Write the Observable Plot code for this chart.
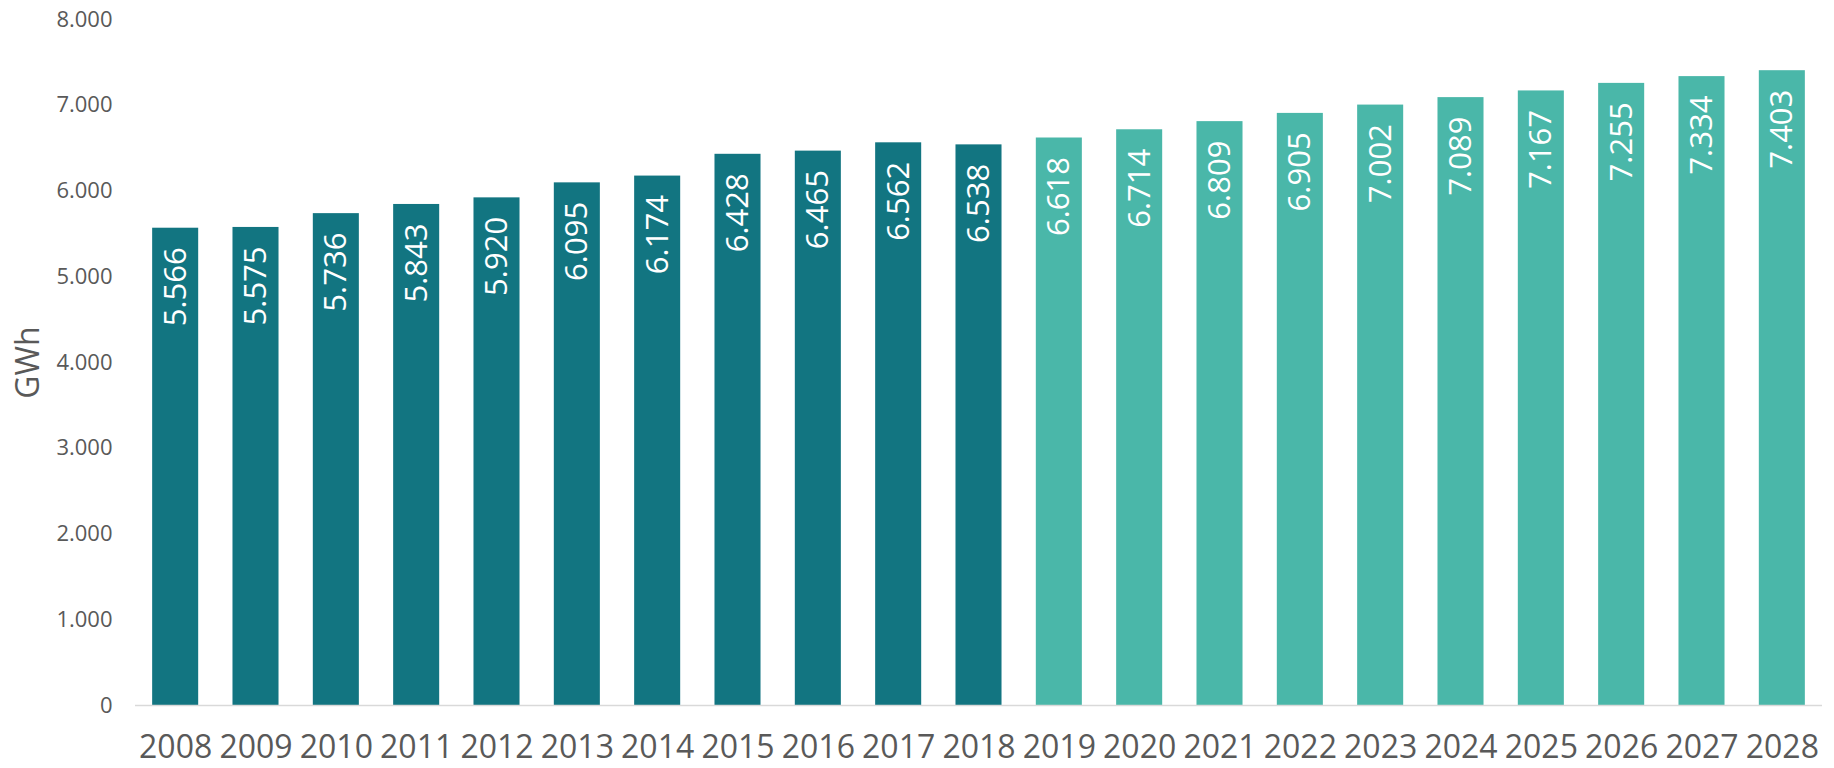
<!DOCTYPE html>
<html>
<head>
<meta charset="utf-8">
<script src="https://cdn.jsdelivr.net/npm/d3@7"></script>
<script src="https://cdn.jsdelivr.net/npm/@observablehq/plot@0.6"></script>
<style>
  html, body { margin: 0; padding: 0; background: #fff; }
  #chart svg { display: block; }
</style>
</head>
<body>
<div id="chart"></div>
<script>
const years = ["2008","2009","2010","2011","2012","2013","2014","2015","2016","2017","2018","2019","2020","2021","2022","2023","2024","2025","2026","2027","2028"];
const values = [5566,5575,5736,5843,5920,6095,6174,6428,6465,6562,6538,6618,6714,6809,6905,7002,7089,7167,7255,7334,7403];
const kinds = ["hist","hist","hist","hist","hist","hist","hist","hist","hist","hist","hist","proj","proj","proj","proj","proj","proj","proj","proj","proj","proj"];
const yTicks = [0,1000,2000,3000,4000,5000,6000,7000,8000];
const yLabel = "GWh";

const data = years.map((y, i) => ({year: y, value: values[i], kind: kinds[i]}));
const loc = d3.formatLocale({decimal: ",", thousands: ".", grouping: [3], currency: ["", ""]});
const fmt = loc.format(",");

const font = "'Open Sans', 'Segoe UI', sans-serif";
const gray = "#595959";

const chart = Plot.plot({
  width: 1834,
  height: 768,
  marginLeft: 135,
  marginRight: 12,
  marginTop: 19,
  marginBottom: 63,
  style: {fontFamily: font, background: "#fff"},
  x: {domain: years, paddingInner: 0.427, paddingOuter: 0.2135, round: false, label: null},
  y: {domain: [0, 8000], label: null},
  color: {domain: ["hist", "proj"], range: ["#127581", "#4AB7A9"]},
  marks: [
    Plot.barY(data, {x: "year", y: "value", fill: "kind"}),
    Plot.ruleY([0], {stroke: "#D9D9D9", strokeWidth: 1.5}),
    Plot.axisY({ticks: yTicks, tickFormat: fmt, tickSize: 0, tickPadding: 23, fontSize: 22, color: gray, label: null}),
    Plot.axisX({tickSize: 0, tickPadding: 30, fontSize: 32, color: gray, label: null}),
    Plot.text(data, {x: "year", y: "value", text: d => fmt(d.value), rotate: -90, textAnchor: "end", lineAnchor: "middle", dy: 19, fill: "white", fontSize: 31}),
    Plot.text([yLabel], {frameAnchor: "left", dx: -107, rotate: -90, fontSize: 32, fill: gray, textAnchor: "middle", lineAnchor: "middle"})
  ]
});
document.getElementById("chart").appendChild(chart);
</script>
</body>
</html>
